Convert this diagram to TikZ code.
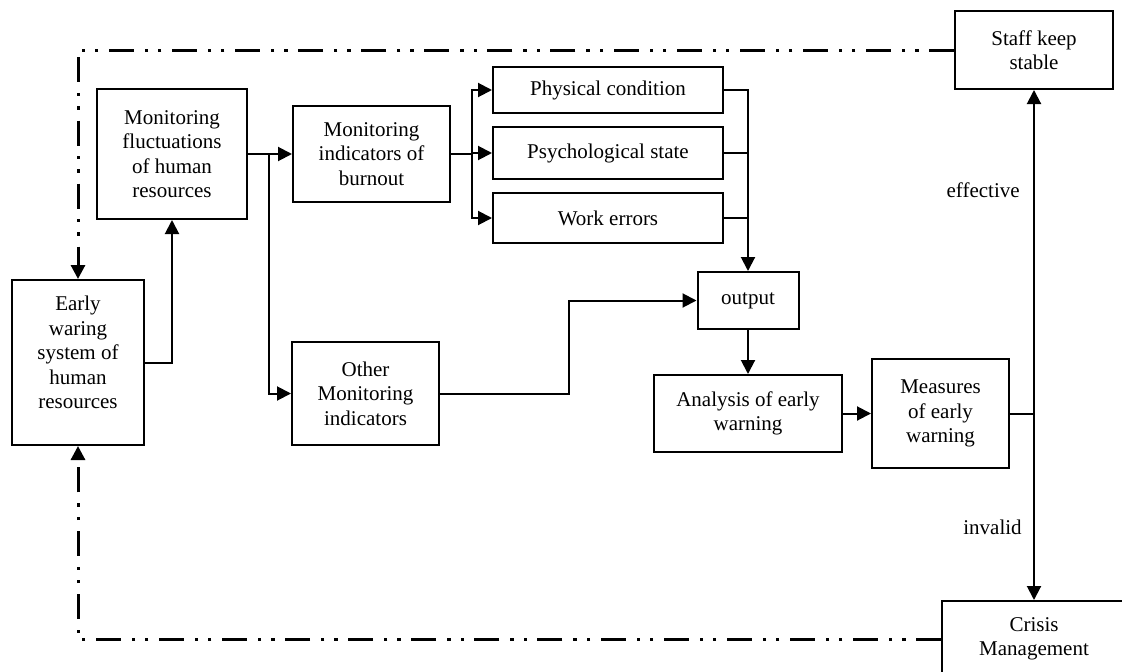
\documentclass[tikz,border=0pt]{standalone}
\usepackage{fontspec}
\setmainfont{Liberation Serif}
\usetikzlibrary{arrows.meta}

\begin{document}
\begin{tikzpicture}[x=1pt,y=-1pt,line width=2pt,
        >={Triangle[length=14pt,width=14pt]},
        box/.style={draw,align=center,inner sep=0pt,font=\fontsize{21}{24.5}\selectfont},
        lbl/.style={font=\fontsize{21}{24.5}\selectfont},
        dashdot/.style={line width=3pt,dash pattern=on 25pt off 10.5pt on 3.3pt off 10pt on 3.3pt off 11pt}]
            \path[use as bounding box] (0,0) rectangle (1122,672);
            \clip (0,0) rectangle (1122,672);

            \node[box,minimum width=132pt,minimum height=165pt] (ew) at (78,362.5) {Early\\waring\\system of\\human\\resources\\[-4pt]\mbox{}};
            \node[box,minimum width=150pt,minimum height=130pt] (mf) at (172,154) {Monitoring\\fluctuations\\of human\\resources};
            \node[box,minimum width=157pt,minimum height=96pt] (mb) at (371.5,154) {Monitoring\\indicators of\\burnout};
            \node[box,minimum width=147pt,minimum height=103pt] (other) at (365.5,393.5) {Other\\Monitoring\\indicators};
            \node[box,minimum width=230pt,minimum height=46pt] (phys) at (608,90) {Physical condition};
            \node[box,minimum width=230pt,minimum height=52pt] (psych) at (608,153) {Psychological state};
            \node[box,minimum width=230pt,minimum height=50pt] (work) at (608,218) {Work errors};
            \node[box,minimum width=101pt,minimum height=57pt] (out) at (748,300.5) {output};
            \node[box,minimum width=188pt,minimum height=77pt] (ana) at (748,413.5) {Analysis of early\\warning};
            \node[box,minimum width=137pt,minimum height=109pt] (meas) at (940.5,413.5) {Measures\\of early\\warning};
            \node[box,minimum width=158pt,minimum height=78pt] (staff) at (1034,50) {Staff keep\\stable};
            \node[box,minimum width=184pt,minimum height=76pt] (crisis) at (1034,639) {Crisis\\Management};

            \coordinate (br) at (269,154);
            \coordinate (sp) at (472,154);
            \coordinate (jn) at (1034,413.5);

            \draw[->] (ew.east) -| (mf.south); \draw[->] (mf) to (mb); \draw[->] (br) |- (other.west);
            \draw (mb) -- (sp); \draw[->] (sp) |- (phys.west); \draw[->] (sp) |- (psych.west); \draw[->] (sp) |- (work.west);
            \draw[->] (phys.east) -| (out.north); \draw (psych.east) -- (psych.east -| out); \draw (work.east) -- (work.east -| out);
            \draw[->] (other.east) -- ++(129,0) |- (out.west);
            \draw[->] (out) to (ana); \draw[->] (ana) to (meas);
            \draw (meas) -- (jn);
            \draw[->] (jn) -- node[lbl,pos=.69,left=10pt] {effective} (staff.south);
            \draw[->] (jn) -- node[lbl,pos=.61,left=8pt] {invalid} (crisis.north);
            \draw[dashdot,->] (staff.west) -| (ew.north);
            \draw[dashdot,->] (crisis.west) -| (ew.south);
        \end{tikzpicture}
\end{document}
